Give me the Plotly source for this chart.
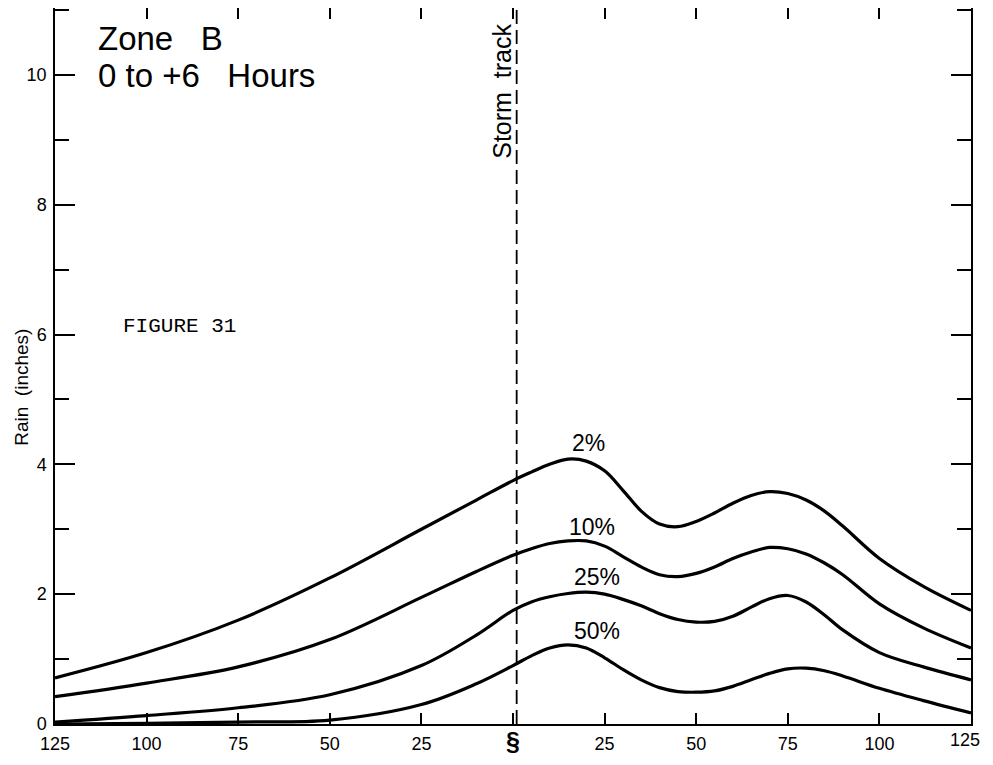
import plotly.graph_objects as go

# distance from storm track (miles), left side negative
x_vals = [-125, -100, -75, -50, -25, -10, 0, 5, 10, 15, 20, 25, 30, 35, 40, 45, 50, 55, 60, 65, 70, 75, 80, 85, 90, 100, 112, 125]

rain_2 = [0.71, 1.10, 1.60, 2.25, 3.00, 3.45, 3.75, 3.88, 4.00, 4.08, 4.05, 3.90, 3.60, 3.28, 3.08, 3.04, 3.12, 3.25, 3.40, 3.52, 3.58, 3.55, 3.45, 3.28, 3.05, 2.55, 2.12, 1.75]
rain_10 = [0.42, 0.63, 0.88, 1.30, 1.95, 2.35, 2.60, 2.70, 2.78, 2.82, 2.82, 2.74, 2.58, 2.42, 2.30, 2.27, 2.32, 2.42, 2.55, 2.65, 2.72, 2.70, 2.62, 2.48, 2.30, 1.85, 1.48, 1.17]
rain_25 = [0.03, 0.13, 0.25, 0.45, 0.90, 1.37, 1.75, 1.88, 1.96, 2.01, 2.03, 2.00, 1.92, 1.82, 1.70, 1.61, 1.57, 1.58, 1.66, 1.80, 1.93, 1.98, 1.88, 1.68, 1.45, 1.10, 0.88, 0.68]
rain_50 = [0.00, 0.01, 0.03, 0.06, 0.30, 0.62, 0.90, 1.05, 1.17, 1.22, 1.17, 1.02, 0.84, 0.68, 0.56, 0.50, 0.49, 0.51, 0.58, 0.68, 0.78, 0.85, 0.86, 0.82, 0.74, 0.55, 0.36, 0.17]

series = [("2%", rain_2), ("10%", rain_10), ("25%", rain_25), ("50%", rain_50)]
label_pos = {"2%": (20.5, 4.33), "10%": (21.6, 3.04), "25%": (22.9, 2.26), "50%": (22.9, 1.43)}

x_tickvals = [-125, -100, -75, -50, -25, 0, 25, 50, 75, 100, 125]
x_ticktext = ["125", "100", "75", "50", "25", '<span style="font-size:25px"><b>§</b></span>',
              "25", "50", "75", "100", ""]
x_last_label = "125"  # drawn separately so it stays inside the page edge
y_tickvals = [0, 2, 4, 6, 8, 10]

FONT = "Liberation Sans"
Y_TOP = 11.03

fig = go.Figure()
for name, ys in series:
    fig.add_trace(go.Scatter(x=x_vals, y=ys, mode="lines", name=name,
                             line=dict(color="black", width=3.2, shape="spline", smoothing=1.0),
                             showlegend=False, hoverinfo="skip"))
    lx, ly = label_pos[name]
    fig.add_annotation(x=lx, y=ly, text=name, showarrow=False,
                       font=dict(size=23, color="black", family=FONT))

# storm track
fig.add_shape(type="line", x0=1, x1=1, y0=0, y1=Y_TOP, xref="x", yref="y",
              line=dict(color="black", width=1.8, dash="14px,6px"))
fig.add_annotation(x=-3.0, y=9.74, text="Storm  track", textangle=-90, showarrow=False,
                   xanchor="center", yanchor="middle",
                   font=dict(size=25, color="black", family=FONT))

fig.add_annotation(xref="paper", yref="paper", x=0.045, y=0.957, xanchor="left", yanchor="middle",
                   text="Zone   B", showarrow=False,
                   font=dict(size=33, color="black", family=FONT))
fig.add_annotation(xref="paper", yref="paper", x=0.045, y=0.906, xanchor="left", yanchor="middle",
                   text="0 to +6   Hours", showarrow=False,
                   font=dict(size=33, color="black", family=FONT))
fig.add_annotation(xref="paper", x=0.072, y=6.12, xanchor="left", yanchor="middle",
                   text="FIGURE 31", showarrow=False,
                   font=dict(size=21, color="black", family="Liberation Mono"))
fig.add_annotation(xref="paper", x=-0.036, y=5.18, textangle=-90, showarrow=False,
                   xanchor="center", yanchor="middle",
                   text="Rain  (inches)", font=dict(size=19, color="black", family=FONT))
fig.add_annotation(xref="paper", yref="paper", x=1.0115, y=0, xanchor="right", yanchor="top",
                   yshift=-4, text=x_last_label, showarrow=False,
                   font=dict(size=18, color="black", family=FONT))

fig.update_xaxes(range=[-125, 125], tickvals=x_tickvals, ticktext=x_ticktext,
                 ticks="inside", ticklen=11, tickwidth=1.5, tickcolor="black",
                 showline=True, linecolor="black", linewidth=1.5, mirror="ticks",
                 showgrid=False, zeroline=False, automargin=False, ticklabelstandoff=3,
                 tickfont=dict(size=18, color="black", family=FONT))
fig.update_yaxes(range=[0, Y_TOP], tickvals=y_tickvals,
                 ticks="inside", ticklen=20, tickwidth=1.5, tickcolor="black",
                 minor=dict(dtick=1, ticks="inside", ticklen=14, tickwidth=1.5, tickcolor="black", showgrid=False),
                 showline=True, linecolor="black", linewidth=1.5, mirror="ticks",
                 showgrid=False, zeroline=False, automargin=False, ticklabelstandoff=3,
                 tickfont=dict(size=18, color="black", family=FONT))

# page body has an 8px margin, so the figure is sized to fit the window
fig.update_layout(width=977, height=749, plot_bgcolor="white", paper_bgcolor="white",
                  margin=dict(l=47, r=14, t=0, b=33))

fig.write_html("out.html")
